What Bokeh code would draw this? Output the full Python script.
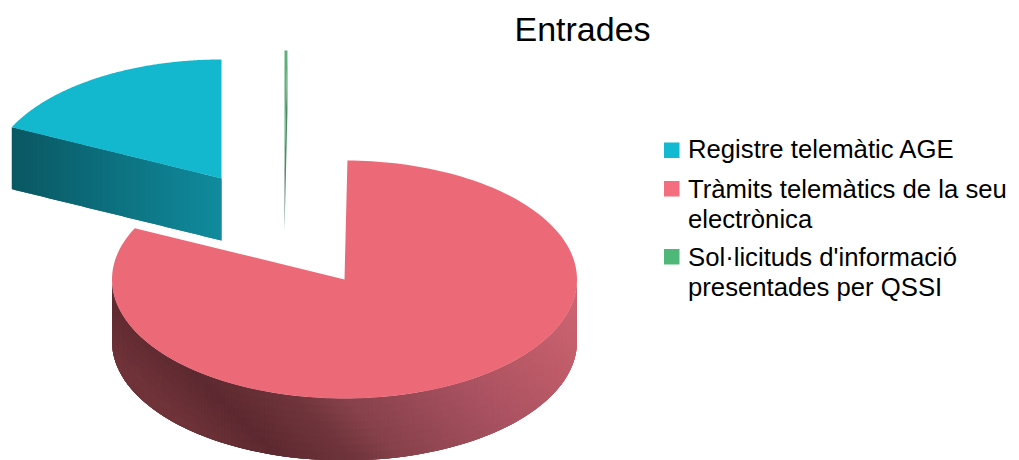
import numpy as np
from bokeh.core.properties import value
from bokeh.embed import file_html
from bokeh.models import Range1d
from bokeh.plotting import figure
from bokeh.resources import INLINE

# Share of incoming records per channel (percent)
categories = ["Registre telemàtic AGE", "Tràmits telemàtics de la seu\nelectrònica",
              "Sol·licituds d'informació\npresentades per QSSI"]
shares = [17.9, 81.9, 0.2]
top_colors = ["#13b8cf", "#ec6a78", "#5fae7c"]
legend_colors = ["#13b9d1", "#f36f7f", "#4fb878"]
title = "Entrades"

W, H = 1019, 460
RX, RY, DEPTH = 232.5, 119.0, 62.0
CENTER = (344.0, 279.0)
# Apex of each slice once exploded away from the pie
APEX = [(221.0, 178.0), CENTER, (284.0, 169.0)]

FONT = value("Liberation Sans")


def hex_rgb(c):
    return np.array([int(c[i:i + 2], 16) for i in (1, 3, 5)], dtype=float)


def ramp(x, stops):
    xs = [s[0] for s in stops]
    rgb = np.array([hex_rgb(s[1]) for s in stops])
    return "#%02x%02x%02x" % tuple(int(round(np.interp(x, xs, rgb[:, k]))) for k in range(3))


def rim(apex, deg):
    a = np.radians(deg)
    return apex[0] + RX * np.sin(a), apex[1] - RY * np.cos(a)


p = figure(width=W, height=H, output_backend="svg", toolbar_location=None,
           x_range=Range1d(0, W), y_range=Range1d(H, 0), min_border=0,
           outline_line_color=None, background_fill_color="white")
p.xaxis.visible = False
p.yaxis.visible = False
p.grid.visible = False

# Slices run anticlockwise from twelve o'clock, angles are measured clockwise
ends = 360 - np.cumsum(shares) * 3.6
starts = np.concatenate(([360.0], ends[:-1]))

# Cyan slice: flat cut wall below its leading edge, each strip overlaps the previous one
cy_apex = APEX[0]
cy_out = rim(cy_apex, ends[0])
cy_stops = [(cy_out[0], "#0a5762"), (cy_apex[0], "#108b9d")]
STRIPS = 100
sx, sy, sc = [], [], []
for i in range(STRIPS):
    t0, t1 = i / STRIPS, min((i + 2) / STRIPS, 1)
    x0 = cy_out[0] + (cy_apex[0] - cy_out[0]) * t0
    x1 = cy_out[0] + (cy_apex[0] - cy_out[0]) * t1
    y0 = cy_out[1] + (cy_apex[1] - cy_out[1]) * t0
    y1 = cy_out[1] + (cy_apex[1] - cy_out[1]) * t1
    sx.append([x0, x1, x1, x0])
    sy.append([y0, y1, y1 + DEPTH, y0 + DEPTH])
    sc.append(ramp((x0 + x1) / 2, cy_stops))
p.patches(sx, sy, fill_color=sc, line_color=None)

# Pink slice: curved front wall, shading follows a diagonal with its darkest band lower left.
# Cells overlap their right and lower neighbours so that no seams show between them.
wall_stops = [(160, "#6f3339"), (222, "#5d2930"), (300, "#70353c"), (346, "#86414a"),
              (477, "#a85160"), (580, "#bd5b68"), (667, "#cb6471")]
angles = np.linspace(270, 90, 181)
ROWS = 8
wx, wy, wc = [], [], []
for i in range(len(angles) - 1):
    a0, a1 = angles[i], angles[min(i + 2, len(angles) - 1)]
    x0, y0 = rim(APEX[1], a0)
    x1, y1 = rim(APEX[1], a1)
    for r in range(ROWS):
        d0, d1 = DEPTH * r / ROWS, DEPTH * min(r + 2, ROWS) / ROWS
        wx.append([x0, x1, x1, x0])
        wy.append([y0 + d0, y1 + d0, y1 + d1, y0 + d1])
        mid_x = (x0 + x1) / 2
        mid_y = (y0 + y1) / 2 + DEPTH * (r + 0.5) / ROWS
        wc.append(ramp(mid_x - (mid_y - 400), wall_stops))
p.patches(wx, wy, fill_color=wc, line_color=None)

# Green sliver: thin cut wall underneath its top face
gr_apex = APEX[2]
gr_out = rim(gr_apex, starts[2])
p.patch([gr_out[0], gr_apex[0], gr_apex[0], gr_out[0]],
        [gr_out[1], gr_apex[1], gr_apex[1] + DEPTH, gr_out[1] + DEPTH],
        fill_color="#4d8a64", line_color=None)

# Top faces
for i, color in enumerate(top_colors):
    arc = np.linspace(starts[i], ends[i], 200)
    ox, oy = rim(APEX[i], arc)
    p.patch(np.r_[APEX[i][0], ox], np.r_[APEX[i][1], oy], fill_color=color, line_color=None)

p.text([582], [28], text=[title], text_font=FONT, text_font_size="34px",
       text_align="center", text_baseline="alphabetic", text_color="#000000")

# Legend, with wrapped entries set line by line
LEG_X, SWATCH, TEXT_X = 663.5, 15.5, 687.5
baselines = [[148], [188, 218], [256, 286]]
swatch_tops = [142, 180.5, 248.5]
for label, color, lines, top in zip(categories, legend_colors, baselines, swatch_tops):
    p.quad(left=[LEG_X], right=[LEG_X + SWATCH], top=[top], bottom=[top + SWATCH],
           fill_color=color, line_color=None)
    for line, y in zip(label.split("\n"), lines):
        p.text([TEXT_X], [y], text=[line], text_font=FONT, text_font_size="25.7px",
               text_align="left", text_baseline="alphabetic", text_color="#000000")

open("out.html", "w").write(file_html(p, INLINE))
